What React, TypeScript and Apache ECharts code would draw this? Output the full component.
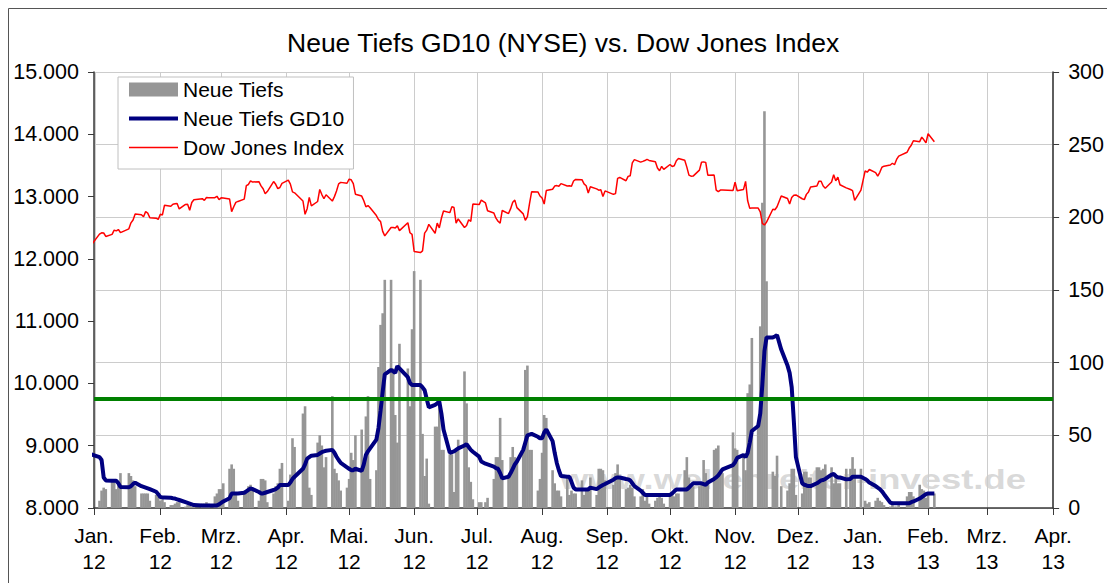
import React, { useEffect, useRef } from 'react';
import * as echarts from 'echarts';

const TITLE = 'Neue Tiefs GD10 (NYSE) vs. Dow Jones Index';
const WATERMARK = 'www.wellenreiter-invest.de';
const MONTH_LABELS = ['Jan.', 'Feb.', 'Mrz.', 'Apr.', 'Mai.', 'Jun.', 'Jul.', 'Aug.', 'Sep.', 'Okt.', 'Nov.', 'Dez.'];
const SERIES_NAMES = ['Neue Tiefs', 'Neue Tiefs GD10', 'Dow Jones Index'];

const AXIS_START = [2012, 0, 1];
const AXIS_END = [2013, 3, 1];
const FIRST_DAY = '2011-12-30';
const LAST_DAY = '2013-02-04';
const HOLIDAYS = [
  '2012-01-02', '2012-01-16', '2012-02-20', '2012-04-06', '2012-05-28', '2012-07-04',
  '2012-09-03', '2012-10-29', '2012-10-30', '2012-11-22', '2012-12-25', '2013-01-01', '2013-01-21',
];

const LEFT_MIN = 8000;
const LEFT_MAX = 15000;
const LEFT_STEP = 1000;
const RIGHT_MIN = 0;
const RIGHT_MAX = 300;
const RIGHT_STEP = 50;
const THRESHOLD = 75;

// Neue Tiefs (daily new lows, NYSE) – trading days from 2012-01-03
const newLowsJan12 = [5, 12, 14, 13, 19, 18, 13, 17, 24, 24, 22, 19, 15, 10, 10, 10, 10, 5, 9, 8];
const newLowsFeb12 = [5, 6, 4, 2, 2, 3, 4, 4, 1, 2, 2, 1, 3, 3, 3, 4, 3, 8, 10, 13];
const newLowsMar12 = [13, 17, 27, 30, 27, 9, 5, 10, 12, 15, 16, 14, 5, 20, 20, 19, 4, 10, 15, 17, 27, 31];
const newLowsApr12 = [5, 23, 48, 42, 65, 70, 32, 14, 9, 45, 50, 43, 28, 35, 77, 27, 24, 19, 12, 14];
const newLowsMay12 = [20, 38, 33, 50, 54, 31, 63, 77, 20, 26, 97, 126, 134, 157, 157, 96, 64, 45, 113, 96, 70, 123];
const newLowsJun12 = [163, 157, 51, 22, 34, 3, 56, 56, 72, 40, 40, 37, 37, 11, 40, 47, 94, 72, 28, 18, 6];
const newLowsJul12 = [4, 4, 4, 7, 20, 35, 35, 62, 33, 21, 35, 42, 35, 34, 39, 95, 98, 40, 40, 12, 20];
const newLowsAug12 = [38, 64, 62, 26, 17, 12, 12, 8, 21, 9, 12, 10, 10, 19, 9, 12, 13, 21, 9, 27, 27, 26, 19];
const newLowsSep12 = [16, 24, 30, 22, 13, 14, 16, 14, 8, 8, 13, 5, 9, 3, 5, 7, 9, 7, 3];
const newLowsOct12 = [9, 11, 8, 10, 10, 26, 35, 21, 15, 15, 15, 16, 33, 24, 17, 40, 41, 43, 24, 24, 52];
const newLowsNov12 = [41, 40, 37, 26, 79, 85, 117, 58, 125, 210, 273, 156, 25, 22, 36, 15, 12, 17, 27, 27, 9];
const newLowsDec12 = [10, 25, 25, 21, 21, 28, 28, 26, 27, 30, 28, 17, 22, 17, 17, 27, 27, 35, 27, 27];
const newLowsJan13 = [5, 3, 4, 5, 7, 5, 4, 2, 1, 2, 1, 1, 2, 8, 11, 11, 8, 16, 13, 12, 7];
const newLowsFeb13 = [10, 10];

// Neue Tiefs GD10 (10-day average) – trading days from 2011-12-30
const gd10Dec11 = [37];
const gd10Jan12 = [35, 33, 21, 19, 18.8, 18.8, 18.8, 17, 14.5, 14.2, 15, 16.5, 17.4, 15, 14.5, 14, 13.5, 13, 11.2, 9.5];
const gd10Feb12 = [7.5, 7.3, 7.3, 7, 6.7, 6.5, 6, 5.5, 4, 3.5, 3, 2.5, 2, 1.8, 1.8, 1.8, 1.8, 1.8, 1.8, 2.5];
const gd10Mar12 = [3.5, 4.5, 6.7, 10, 10, 10, 10, 10.5, 11.5, 12.5, 13.5, 13, 11, 10, 10, 10.5, 11, 12.4, 13, 14, 15.8, 15.8];
const gd10Apr12 = [15.8, 17.5, 20, 21.5, 27, 30, 34, 35, 36, 36.5, 37.5, 38.5, 39, 39.4, 40, 38, 35.3, 33, 31, 28];
const gd10May12 = [27, 26, 26, 27, 25.5, 30, 36.5, 39, 41, 47, 55, 67, 80, 92, 95, 94, 93, 97.7, 96, 90, 86, 84.6];
const gd10Jun12 = [84.6, 84.6, 83, 81, 75, 69.3, 71, 72, 73.2, 65, 54, 38, 38.5, 39, 40, 41, 43, 44, 42, 40, 38.7];
const gd10Jul12 = [35.3, 32, 30.5, 30, 28.5, 27.5, 27, 24, 20.4, 21.5, 24, 27, 30, 32, 40, 45, 50, 50.5, 51, 49, 48];
const gd10Aug12 = [48, 52, 54, 46, 38, 31, 26, 22, 21.5, 21.5, 18, 14, 12.8, 12.8, 12.8, 12.8, 12.8, 14, 13, 14, 15, 15.8, 16.5];
const gd10Sep12 = [19.5, 20.5, 21, 21, 20, 19.7, 19, 17, 15, 12, 10.5, 9, 9, 9, 9, 9, 9, 9, 9];
const gd10Oct12 = [9, 10, 11.5, 12.8, 12.8, 12.8, 12.8, 14, 15.5, 17, 17, 17, 16.5, 16, 17.5, 20, 21, 22.5, 24.5, 26.6, 29.5];
const gd10Nov12 = [31.5, 34.5, 36.5, 35, 38, 45, 53, 56.4, 65, 85, 108, 117.4, 117.4, 118, 119, 109, 98, 93, 83, 60, 35];
const gd10Dec12 = [17, 16, 15.5, 15.1, 15.1, 17, 18, 19, 19.3, 20, 23, 23.4, 22, 21, 21, 19.7, 20, 21.5, 21.5, 21.5];
const gd10Jan13 = [20, 19, 17.5, 15.1, 14, 13, 11.5, 9.5, 3.7, 3.2, 3.2, 3.2, 3.2, 3.2, 3.2, 4, 4.5, 6.5, 7.5, 8.5, 9.5];
const gd10Feb13 = [10, 10];

// Dow Jones Index closes – trading days from 2011-12-30
const dowDec11 = [12217];
const dowJan12 = [12397, 12418, 12415, 12360, 12393, 12462, 12449, 12471, 12422, 12482, 12578, 12624, 12720, 12709, 12675, 12758, 12735, 12660, 12653, 12633];
const dowFeb12 = [12716, 12705, 12862, 12845, 12878, 12884, 12890, 12801, 12874, 12878, 12781, 12904, 12950, 12966, 12938, 12985, 12983, 12982, 13005, 12952];
const dowMar12 = [12980, 12977, 12962, 12759, 12837, 12907, 12922, 12959, 13177, 13194, 13253, 13233, 13239, 13171, 13125, 13046, 13081, 13241, 13197, 13127, 13146, 13212];
const dowApr12 = [13264, 13199, 13075, 13060, 12929, 12716, 12806, 12987, 12850, 12921, 13115, 13032, 12965, 13029, 12928, 12999, 13090, 13204, 13228, 13214];
const dowMay12 = [13279, 13269, 13207, 13038, 13008, 12932, 12835, 12855, 12820, 12695, 12632, 12598, 12442, 12369, 12504, 12502, 12496, 12529, 12454, 12580, 12419, 12393];
const dowJun12 = [12118, 12101, 12127, 12414, 12461, 12554, 12411, 12574, 12497, 12652, 12767, 12742, 12838, 12824, 12574, 12641, 12503, 12535, 12628, 12602, 12880];
const dowJul12 = [12871, 12943, 12897, 12772, 12736, 12653, 12604, 12573, 12777, 12727, 12806, 12909, 12943, 12823, 12722, 12618, 12677, 12888, 13076, 13074, 13009];
const dowAug12 = [12976, 12879, 13096, 13118, 13169, 13176, 13165, 13208, 13170, 13172, 13165, 13250, 13276, 13272, 13204, 13173, 13058, 13158, 13124, 13103, 13108, 13001, 13091];
const dowSep12 = [13036, 13048, 13293, 13307, 13254, 13324, 13334, 13540, 13594, 13553, 13565, 13578, 13597, 13580, 13559, 13458, 13414, 13486, 13437];
const dowOct12 = [13515, 13483, 13495, 13575, 13610, 13584, 13473, 13345, 13327, 13329, 13424, 13551, 13557, 13548, 13344, 13346, 13103, 13078, 13104, 13107, 13096];
const dowNov12 = [13232, 13093, 13112, 13245, 12932, 12811, 12815, 12815, 12756, 12570, 12543, 12589, 12796, 12788, 12837, 13010, 12968, 12879, 12985, 13022, 13026];
const dowDec12 = [12965, 12951, 13035, 13075, 13155, 13169, 13248, 13245, 13170, 13135, 13235, 13351, 13252, 13312, 13190, 13139, 13114, 13096, 12938, 13104];
const dowJan13 = [13412, 13391, 13435, 13384, 13329, 13390, 13471, 13488, 13507, 13535, 13511, 13596, 13650, 13712, 13779, 13825, 13896, 13882, 13954, 13911, 13861];
const dowFeb13 = [14009, 13880];

const FONT = '"Liberation Sans", Arial, Helvetica, sans-serif';
const HALF_DAY = 12 * 3600 * 1000;

function tradingDays(): string[] {
  const [y0, m0, d0] = FIRST_DAY.split('-').map(Number);
  const [y1, m1, d1] = LAST_DAY.split('-').map(Number);
  const end = Date.UTC(y1, m1 - 1, d1);
  const out: string[] = [];
  for (let t = Date.UTC(y0, m0 - 1, d0); t <= end; t += 86400000) {
    const d = new Date(t);
    const wd = d.getUTCDay();
    if (wd === 0 || wd === 6) continue;
    const s = d.toISOString().slice(0, 10);
    if (HOLIDAYS.includes(s)) continue;
    out.push(s);
  }
  return out;
}

function toLocalTime(s: string): number {
  const [y, m, d] = s.split('-').map(Number);
  return new Date(y, m - 1, d).getTime();
}

function germanNumber(v: number): string {
  return String(v).replace(/\B(?=(\d{3})+(?!\d))/g, '.');
}

export default function App() {
  const ref = useRef<HTMLDivElement>(null);

  useEffect(() => {
    if (!ref.current) return;
    const chart = echarts.init(ref.current, undefined, { renderer: 'svg' });

    const axisMin = new Date(AXIS_START[0], AXIS_START[1], AXIS_START[2]).getTime();
    const axisMax = new Date(AXIS_END[0], AXIS_END[1], AXIS_END[2]).getTime();

    const days = tradingDays().map(toLocalTime);
    const newLows = [
      ...newLowsJan12, ...newLowsFeb12, ...newLowsMar12, ...newLowsApr12, ...newLowsMay12, ...newLowsJun12,
      ...newLowsJul12, ...newLowsAug12, ...newLowsSep12, ...newLowsOct12, ...newLowsNov12, ...newLowsDec12,
      ...newLowsJan13, ...newLowsFeb13,
    ];
    const gd10 = [
      ...gd10Dec11, ...gd10Jan12, ...gd10Feb12, ...gd10Mar12, ...gd10Apr12, ...gd10May12, ...gd10Jun12,
      ...gd10Jul12, ...gd10Aug12, ...gd10Sep12, ...gd10Oct12, ...gd10Nov12, ...gd10Dec12, ...gd10Jan13, ...gd10Feb13,
    ];
    const dow = [
      ...dowDec11, ...dowJan12, ...dowFeb12, ...dowMar12, ...dowApr12, ...dowMay12, ...dowJun12,
      ...dowJul12, ...dowAug12, ...dowSep12, ...dowOct12, ...dowNov12, ...dowDec12, ...dowJan13, ...dowFeb13,
    ];
    const barDays = days.slice(1);

    const axisColor = '#3a3a3a';
    const gridColor = '#cccccc';

    chart.setOption({
      animation: false,
      backgroundColor: '#ffffff',
      textStyle: { fontFamily: FONT },
      title: {
        text: TITLE,
        left: 282,
        top: 24,
        textStyle: { fontSize: 26.5, fontWeight: 'normal', color: '#000', fontFamily: FONT },
      },
      legend: {
        orient: 'vertical',
        left: 118,
        top: 77,
        selectedMode: false,
        data: [
          { name: SERIES_NAMES[0], icon: 'rect' },
          { name: SERIES_NAMES[1], icon: 'path://M0,0H49V4H0Z' },
          { name: SERIES_NAMES[2], icon: 'path://M0,0H49V1.6H0Z' },
        ],
        itemWidth: 49,
        itemHeight: 14,
        itemGap: 6,
        padding: [1, 9, 10, 11],
        backgroundColor: '#ffffff',
        borderColor: '#c0c0c0',
        borderWidth: 1,
        textStyle: { fontSize: 21, color: '#000', fontFamily: FONT, lineHeight: 23 },
      },
      grid: { left: 94, right: 53, top: 72, bottom: 75, containLabel: false },
      xAxis: {
        type: 'time',
        min: axisMin,
        max: axisMax,
        splitNumber: 15,
        minInterval: 28 * 86400000,
        maxInterval: 31 * 86400000,
        axisLine: { show: true, lineStyle: { color: axisColor, width: 1.5 } },
        axisTick: { show: true, length: 7, lineStyle: { color: axisColor } },
        splitLine: { show: true, lineStyle: { color: gridColor, width: 1 } },
        axisLabel: {
          show: true,
          interval: 0,
          hideOverlap: false,
          showMinLabel: true,
          showMaxLabel: true,
          fontSize: 21,
          lineHeight: 26,
          margin: 14,
          color: '#000',
          fontFamily: FONT,
          formatter: (value: number) => {
            const d = new Date(Math.max(value, axisMin) + HALF_DAY);
            return MONTH_LABELS[d.getMonth()] + '\n' + String(d.getFullYear()).slice(2);
          },
        },
      },
      yAxis: [
        {
          type: 'value',
          position: 'left',
          min: LEFT_MIN,
          max: LEFT_MAX,
          interval: LEFT_STEP,
          axisLine: { show: true, lineStyle: { color: axisColor, width: 1.5 } },
          axisTick: { show: true, length: 6, lineStyle: { color: axisColor } },
          splitLine: { show: false },
          axisLabel: {
            fontSize: 21.5,
            margin: 15,
            color: '#000',
            fontFamily: FONT,
            formatter: (v: number) => germanNumber(v),
          },
        },
        {
          type: 'value',
          position: 'right',
          min: RIGHT_MIN,
          max: RIGHT_MAX,
          interval: RIGHT_STEP,
          axisLine: { show: true, lineStyle: { color: axisColor, width: 1.5 } },
          axisTick: { show: true, length: 6, lineStyle: { color: axisColor } },
          splitLine: { show: true, lineStyle: { color: gridColor, width: 1 } },
          axisLabel: { fontSize: 21.5, margin: 15, color: '#000', fontFamily: FONT },
        },
      ],
      graphic: [
        {
          type: 'text',
          x: 560,
          y: 466,
          z: 0,
          scaleX: 1.3,
          silent: true,
          style: {
            text: WATERMARK,
            font: 'bold 28px "Liberation Sans", Arial, sans-serif',
            fill: 'rgba(200,200,200,0.7)',
          },
        },
        {
          type: 'rect',
          z: 10,
          silent: true,
          shape: { x: 8.5, y: 8.5, width: 1200, height: 700 },
          style: { fill: 'none', stroke: '#555', lineWidth: 1 },
        },
      ],
      series: [
        {
          name: SERIES_NAMES[0],
          type: 'bar',
          yAxisIndex: 1,
          barWidth: 2.6,
          z: 2,
          itemStyle: { color: '#969696' },
          data: barDays.map((d, i) => [d, newLows[i]]),
          markLine: {
            silent: true,
            symbol: ['none', 'none'],
            label: { show: false },
            lineStyle: { color: '#008000', width: 4, type: 'solid' },
            data: [{ yAxis: THRESHOLD }],
          },
        },
        {
          name: SERIES_NAMES[1],
          type: 'line',
          yAxisIndex: 1,
          symbol: 'none',
          showSymbol: false,
          z: 3,
          lineStyle: { color: '#000080', width: 4 },
          itemStyle: { color: '#000080' },
          data: days.map((d, i) => [d, gd10[i]]),
        },
        {
          name: SERIES_NAMES[2],
          type: 'line',
          yAxisIndex: 0,
          symbol: 'none',
          showSymbol: false,
          z: 4,
          lineStyle: { color: '#ff0000', width: 1.5 },
          itemStyle: { color: '#ff0000' },
          data: days.map((d, i) => [d, dow[i]]),
        },
      ],
    });

    return () => chart.dispose();
  }, []);

  return (
    <div
      ref={ref}
      style={{ position: 'fixed', left: 0, top: 0, width: 1107, height: 583, background: '#fff' }}
    />
  );
}
